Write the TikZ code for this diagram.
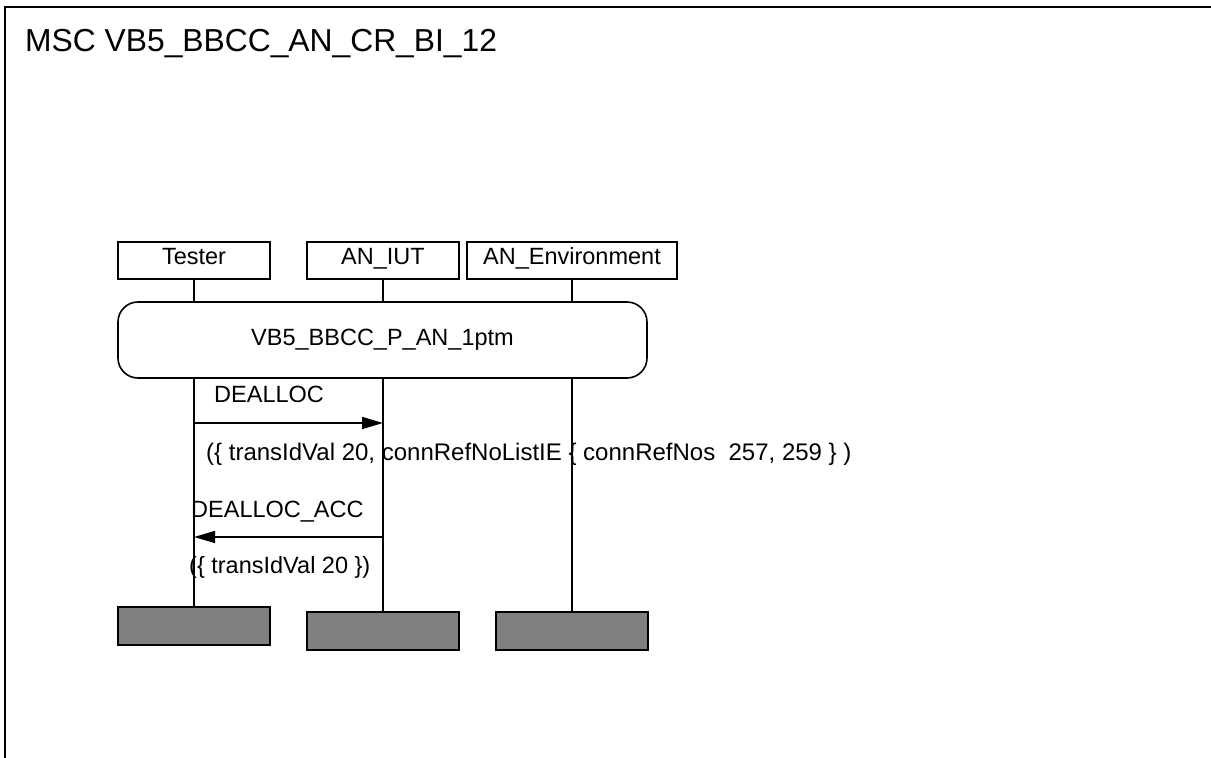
\documentclass[tikz,border=0pt]{standalone}
\usepackage{fontspec}
\setmainfont{Liberation Sans}
\usetikzlibrary{arrows.meta, positioning, calc}
\definecolor{StopGray}{RGB}{128,128,128}

\begin{document}
\begin{tikzpicture}[x=1pt, y=-1pt,
    every node/.style={font=\fontsize{23.5}{28}\selectfont},
    headbox/.style={draw, line width=1.6pt, minimum width=152pt, minimum height=37pt,
                    inner sep=0pt, text height=17pt, text depth=10pt},
    refbox/.style={draw, line width=1.6pt, rounded corners=20pt, minimum width=529pt,
                   minimum height=76pt, inner sep=0pt, text height=17pt, text depth=7pt},
    endbox/.style={draw, line width=2pt, fill=StopGray, minimum width=152pt,
                   minimum height=38pt, inner sep=0pt},
    lifeline/.style={line width=1.6pt},
    msg/.style={line width=1.6pt, -{Triangle[length=21pt, width=12pt]}},
    msglabel/.style={anchor=base west, inner sep=0pt}]
  \useasboundingbox (0,0) rectangle (1211,758);
  % frame
  \draw[line width=2.4pt] (5,7) rectangle (1240,790);
  \node[anchor=base west, inner sep=0pt, font=\fontsize{31.8}{36}\selectfont] (title) at (25,51)
    {MSC VB5\_BBCC\_AN\_CR\_BI\_12};

  % instances
  \node[headbox] (tester) at (194,260.5) {Tester};
  \node[headbox] (iut) at (383,260.5) {AN\_IUT};
  \node[headbox, minimum width=210pt] (env) at (572,260.5) {AN\_Environment};

  \node[refbox] (ref) at (382.5,340) {VB5\_BBCC\_P\_AN\_1ptm};

  \node[endbox] (testerEnd) at (194,626) {};
  \node[endbox] (iutEnd) at (383,631) {};
  \node[endbox] (envEnd) at (572,631) {};

  % lifelines
  \foreach \inst in {tester, iut, env} {
    \draw[lifeline] (\inst.south) -- (\inst.south |- ref.north);
    \draw[lifeline] (\inst.south |- ref.south) -- (\inst End.north);
  }

  % messages
  \coordinate (deallocFrom) at (tester.south |- 0,423);
  \coordinate (deallocTo) at (iut.south |- 0,423);
  \draw[msg] (deallocFrom) -- (deallocTo);
  \node[msglabel] (deallocLbl) at (214,402) {DEALLOC};
  \node[msglabel, font=\fontsize{24}{28}\selectfont] (deallocPar) at (206,460)
    {(\{ transIdVal 20, connRefNoListIE \{ connRefNos\ \ 257, 259 \} )};

  \coordinate (accFrom) at (iut.south |- 0,537);
  \coordinate (accTo) at (tester.south |- 0,537);
  \draw[msg] (accFrom) -- (accTo);
  \node[msglabel] (accLbl) at (191,517) {DEALLOC\_ACC};
  \node[msglabel] (accPar) at (189,573) {(\{ transIdVal 20 \})};
\end{tikzpicture}
\end{document}
